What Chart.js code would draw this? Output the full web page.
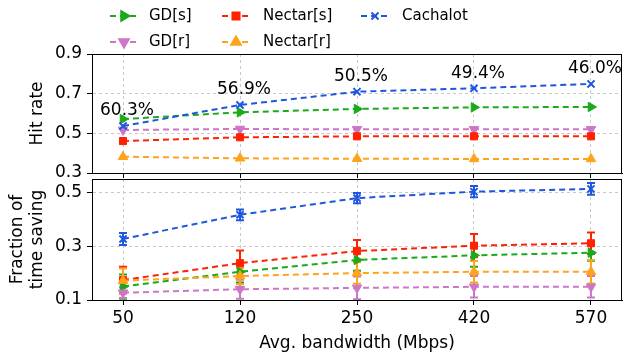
<!DOCTYPE html>
<html><head><meta charset="utf-8">
<script src="https://cdn.jsdelivr.net/npm/chart.js@4/dist/chart.umd.min.js"></script>
<style>
html,body{margin:0;padding:0;background:#fff;width:623px;height:352px;overflow:hidden}
canvas{position:absolute;left:0;display:block;background:transparent}
#c1{top:0}
#c2{top:176px}
</style></head><body>
<canvas id="c1" width="623" height="190" style="width:623px;height:190px"></canvas>
<canvas id="c2" width="623" height="176" style="width:623px;height:176px"></canvas>
<script>
// ---- data ----
const X_LABELS = ['50', '120', '250', '420', '570'];
const SERIES_NAMES = ['GD[s]', 'GD[r]', 'Nectar[s]', 'Nectar[r]', 'Cachalot'];
const HIT_GD_S      = [0.572, 0.606, 0.623, 0.631, 0.633];
const HIT_GD_R      = [0.517, 0.522, 0.520, 0.520, 0.520];
const HIT_NECTAR_S  = [0.461, 0.480, 0.485, 0.485, 0.485];
const HIT_NECTAR_R  = [0.382, 0.374, 0.372, 0.371, 0.371];
const HIT_CACHALOT  = [0.537, 0.643, 0.710, 0.727, 0.749];
const CACHALOT_LABELS = ['60.3%', '56.9%', '50.5%', '49.4%', '46.0%'];
const SAVE_GD_S      = [0.150, 0.205, 0.249, 0.266, 0.276];
const SAVE_GD_S_ERR  = [0.045, 0.040, 0.040, 0.042, 0.030];
const SAVE_GD_R      = [0.127, 0.140, 0.145, 0.149, 0.149];
const SAVE_GD_R_ERR  = [0.020, 0.035, 0.042, 0.040, 0.040];
const SAVE_NECTAR_S     = [0.174, 0.237, 0.282, 0.302, 0.311];
const SAVE_NECTAR_S_ERR = [0.050, 0.047, 0.041, 0.043, 0.040];
const SAVE_NECTAR_R     = [0.172, 0.189, 0.200, 0.205, 0.205];
const SAVE_NECTAR_R_ERR = [0.045, 0.030, 0.040, 0.040, 0.044];
const SAVE_CACHALOT     = [0.327, 0.417, 0.479, 0.503, 0.513];
const SAVE_CACHALOT_ERR = [0.022, 0.020, 0.019, 0.021, 0.022];
const HIT_TICKS = [0.3, 0.5, 0.7, 0.9];
const SAVE_TICKS = [0.1, 0.3, 0.5];

// ---- styles ----
const FONT = 'DejaVu Sans';
const STYLES = [
  {color:'#1aaa1a', pointStyle:'triangle', rot:90,  order:4},
  {color:'#cc77c6', pointStyle:'triangle', rot:180, order:3},
  {color:'#ff2200', pointStyle:'rect',     rot:0,   order:2},
  {color:'#ffa31a', pointStyle:'triangle', rot:0,   order:1},
  {color:'#1f56e0', pointStyle:'crossRot', rot:0,   order:0}
];

function mk(values, i, errs) {
  const s = STYLES[i];
  return {
    label: SERIES_NAMES[i],
    data: values.map((v, k) => ({x: k, y: v})),
    errors: errs || null,
    borderColor: s.color, backgroundColor: s.color,
    pointBackgroundColor: s.color, pointBorderColor: s.color,
    borderWidth: 2, borderDash: [6, 4],
    pointStyle: s.pointStyle, pointRotation: s.rot,
    pointRadius: s.pointStyle === 'rect' ? 5 : (s.pointStyle === 'crossRot' ? 5 : 5.5),
    pointBorderWidth: s.pointStyle === 'crossRot' ? 2 : 1,
    order: s.order, tension: 0, fill: false
  };
}

const framePlugin = {
  id: 'frame',
  afterDraw(chart) {
    const {ctx, chartArea: a} = chart;
    ctx.save();
    ctx.strokeStyle = '#000'; ctx.lineWidth = 1;
    ctx.strokeRect(Math.round(a.left) + 0.5, Math.round(a.top) + 0.5,
                   Math.round(a.right - a.left) - 1, Math.round(a.bottom - a.top));
    ctx.restore();
  }
};

const errorPlugin = {
  id: 'errbars',
  beforeDatasetsDraw(chart) {
    const {ctx, chartArea: a, scales} = chart;
    ctx.save();
    ctx.beginPath(); ctx.rect(a.left, a.top, a.right - a.left, a.bottom - a.top); ctx.clip();
    chart.data.datasets.forEach((ds) => {
      if (!ds.errors) return;
      ctx.strokeStyle = ds.borderColor; ctx.lineWidth = 2; ctx.setLineDash([]);
      ds.data.forEach((p, k) => {
        const x = scales.x.getPixelForValue(p.x);
        const y1 = scales.y.getPixelForValue(p.y - ds.errors[k]);
        const y2 = scales.y.getPixelForValue(p.y + ds.errors[k]);
        ctx.beginPath();
        ctx.moveTo(x, y1); ctx.lineTo(x, y2);
        ctx.moveTo(x - 4, y1); ctx.lineTo(x + 4, y1);
        ctx.moveTo(x - 4, y2); ctx.lineTo(x + 4, y2);
        ctx.stroke();
      });
    });
    ctx.restore();
  }
};

const annotPlugin = {
  id: 'annot',
  afterDatasetsDraw(chart) {
    const idx = chart.data.datasets.findIndex(d => d.label === 'Cachalot');
    const meta = chart.getDatasetMeta(idx);
    const {ctx} = chart;
    ctx.save();
    ctx.font = '17px "' + FONT + '"';
    ctx.fillStyle = '#000'; ctx.textAlign = 'center'; ctx.textBaseline = 'middle';
    meta.data.forEach((pt, k) => ctx.fillText(CACHALOT_LABELS[k], pt.x + 4, pt.y - 15));
    ctx.restore();
  }
};

const legendPlugin = {
  id: 'customLegend',
  afterDraw(chart) {
    const {ctx} = chart;
    const cols = [124, 236, 375], rows = [16, 42];
    const txtX = [149, 263, 402];
    ctx.save();
    chart.data.datasets.forEach((ds, i) => {
      const col = Math.floor(i / 2), row = i % 2;
      const cx = cols[col], cy = rows[row];
      ctx.strokeStyle = ds.borderColor; ctx.lineWidth = 2; ctx.setLineDash([6, 4]);
      ctx.beginPath(); ctx.moveTo(cx - 14, cy); ctx.lineTo(cx + 14, cy); ctx.stroke();
      ctx.setLineDash([]);
      ctx.fillStyle = ds.borderColor;
      Chart.helpers.drawPoint(ctx, {
        pointStyle: ds.pointStyle, rotation: ds.pointRotation,
        radius: ds.pointRadius, borderWidth: ds.pointBorderWidth
      }, cx, cy);
      ctx.fillStyle = '#000';
      ctx.font = '15px "' + FONT + '"';
      ctx.textAlign = 'left'; ctx.textBaseline = 'middle';
      ctx.fillText(ds.label, txtX[col], cy);
    });
    ctx.restore();
  }
};

const gridCfg = {color: '#c8c8c8', lineWidth: 1, drawTicks: true, tickLength: 5, tickColor: '#000', tickWidth: 1};

function xScale(showLabels, title, h) {
  return {
    type: 'linear', min: -0.265, max: 4.265,
    afterBuildTicks: s => { s.ticks = X_LABELS.map((_, k) => ({value: k})); },
    afterFit: s => { s.height = h; s.paddingLeft = 0; s.paddingRight = 0; },
    grid: gridCfg,
    border: {display: true, color: '#000', width: 1, dash: [3, 3], dashOffset: 0},
    ticks: {
      display: showLabels, color: '#000', padding: 3,
      font: {family: FONT, size: 17},
      callback: v => X_LABELS[v] !== undefined ? X_LABELS[v] : ''
    },
    title: title ? {display: true, text: title, color: '#000',
      font: {family: FONT, size: 17, lineHeight: 1.0}, padding: {top: 0, bottom: 0}} : {display: false}
  };
}
function yScale(min, max, ticks, title, titlePad) {
  return {
    min: min, max: max,
    afterBuildTicks: s => { s.ticks = ticks.map(v => ({value: v})); },
    afterFit: s => { s.width = 92; s.paddingTop = 0; s.paddingBottom = 0; },
    grid: gridCfg,
    border: {display: true, color: '#000', width: 1, dash: [3, 3]},
    ticks: {color: '#000', padding: 5, font: {family: FONT, size: 17},
      callback: v => v.toFixed(1)},
    title: {display: true, text: title, color: '#000',
      font: {family: FONT, size: 17, lineHeight: '20px'}, padding: {top: titlePad, bottom: 0}}
  };
}

Chart.defaults.font.family = FONT;
Chart.defaults.animation = false;

new Chart(document.getElementById('c1'), {
  type: 'line',
  data: {datasets: [
    mk(HIT_GD_S, 0), mk(HIT_GD_R, 1), mk(HIT_NECTAR_S, 2), mk(HIT_NECTAR_R, 3), mk(HIT_CACHALOT, 4)
  ]},
  options: {
    responsive: false, maintainAspectRatio: false, animation: false, devicePixelRatio: 1,
    layout: {autoPadding: false, padding: {top: 54, right: 1, left: 0, bottom: 0}},
    plugins: {legend: {display: false}, tooltip: {enabled: false}},
    scales: {x: xScale(false, null, 17), y: yScale(0.3, 0.9, HIT_TICKS, 'Hit rate', 28)}
  },
  plugins: [framePlugin, annotPlugin, legendPlugin]
});

new Chart(document.getElementById('c2'), {
  type: 'line',
  data: {datasets: [
    mk(SAVE_GD_S, 0, SAVE_GD_S_ERR), mk(SAVE_GD_R, 1, SAVE_GD_R_ERR),
    mk(SAVE_NECTAR_S, 2, SAVE_NECTAR_S_ERR), mk(SAVE_NECTAR_R, 3, SAVE_NECTAR_R_ERR),
    mk(SAVE_CACHALOT, 4, SAVE_CACHALOT_ERR)
  ]},
  options: {
    responsive: false, maintainAspectRatio: false, animation: false, devicePixelRatio: 1,
    layout: {autoPadding: false, padding: {top: 3, right: 1, left: 0, bottom: 0}},
    plugins: {legend: {display: false}, tooltip: {enabled: false}},
    scales: {x: xScale(true, 'Avg. bandwidth (Mbps)', 52),
             y: yScale(0.1, 0.55, SAVE_TICKS, ['Fraction of', 'time saving'], 8)}
  },
  plugins: [framePlugin, errorPlugin]
});
</script>
</body></html>
